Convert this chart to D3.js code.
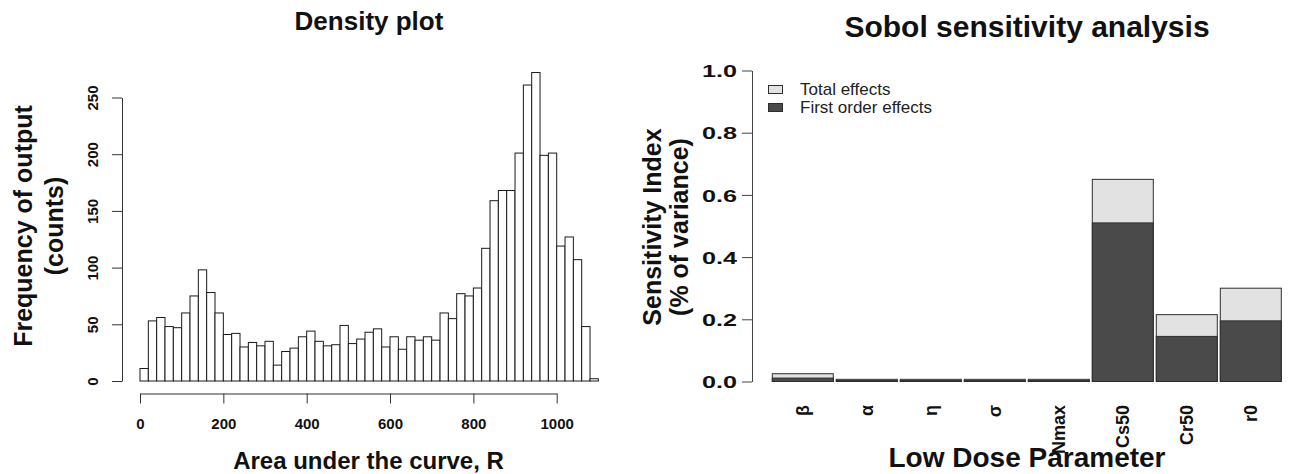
<!DOCTYPE html>
<html>
<head>
<meta charset="utf-8">
<script src="https://d3js.org/d3.v7.min.js"></script>
<style>
  body { margin: 0; background: #fff; }
  svg text { font-family: "Liberation Sans", Arial, Helvetica, sans-serif; fill: #111; }
</style>
</head>
<body>
<svg id="chart" width="1291" height="474"></svg>
<script>
/* Daten: Histogramm (Breite der Klassen 20) */
const binWidth = 20;
const counts = [11, 53, 56, 48, 47, 60, 75, 98, 78, 60,
                41, 42, 30, 34, 31, 35, 14, 26, 29, 39,
                44, 35, 31, 32, 49, 33, 37, 43, 46, 30,
                39, 28, 39, 36, 39, 36, 60, 55, 77, 75,
                82, 117, 159, 168, 168, 201, 261, 272, 199, 201,
                119, 127, 107, 48, 2];
const histXTicks = [0, 200, 400, 600, 800, 1000];
const histYTicks = [0, 50, 100, 150, 200, 250];

/* Daten: Sobol-Indizes */
const params = ["β", "α", "η", "σ", "Nmax", "Cs50", "Cr50", "r0"];
const totalEffects = [0.025, 0.007, 0.007, 0.007, 0.007, 0.65, 0.215, 0.30];
const firstOrder = [0.011, 0.003, 0.003, 0.003, 0.003, 0.51, 0.145, 0.195];
const sobolYTicks = [0, 0.2, 0.4, 0.6, 0.8, 1.0];

const svg = d3.select("#chart");
svg.append("rect").attr("width", 1291).attr("height", 474).attr("fill", "#fff");

/* ---------- Linkes Diagramm: Density plot ---------- */
const hx = d3.scaleLinear().domain([0, 1000]).range([140, 556.7]);
const hy = d3.scaleLinear().domain([0, 250]).range([381, 97.5]);
const bins = counts.map((c, i) => ({ x0: i * binWidth, x1: (i + 1) * binWidth, n: c }));

const left = svg.append("g");

left.selectAll("rect.bin")
  .data(bins)
  .enter().append("rect")
  .attr("class", "bin")
  .attr("x", d => hx(d.x0))
  .attr("y", d => hy(d.n))
  .attr("width", d => hx(d.x1) - hx(d.x0))
  .attr("height", d => hy(0) - hy(d.n))
  .attr("fill", "#fff")
  .attr("stroke", "#1a1a1a")
  .attr("stroke-width", 1);

// x-Achse (R-Stil, abgesetzt)
const hxAxis = left.append("g").attr("transform", "translate(0,393.5)")
  .call(d3.axisBottom(hx).tickValues(histXTicks).tickSize(10).tickSizeOuter(0).tickFormat(d3.format("d")));
hxAxis.select(".domain").attr("stroke", "#333");
hxAxis.selectAll(".tick line").attr("stroke", "#333");
hxAxis.selectAll(".tick text")
  .attr("y", 0).attr("dy", null)
  .attr("transform", "translate(0,35.5)")
  .style("font-size", "15px").style("font-weight", "bold");

// y-Achse mit gedrehten Beschriftungen
const hyAxis = left.append("g").attr("transform", "translate(122,0)")
  .call(d3.axisLeft(hy).tickValues(histYTicks).tickSize(10).tickSizeOuter(0).tickFormat(d3.format("d")));
hyAxis.select(".domain").attr("stroke", "#333");
hyAxis.selectAll(".tick line").attr("stroke", "#333");
hyAxis.selectAll(".tick text")
  .attr("x", null).attr("dy", null)
  .attr("text-anchor", "middle")
  .attr("transform", "translate(-24,0) rotate(-90)")
  .style("font-size", "15px").style("font-weight", "bold");

left.append("text")
  .attr("x", 369).attr("y", 30)
  .attr("text-anchor", "middle")
  .style("font-size", "26px").style("font-weight", "bold")
  .text("Density plot");

left.append("text")
  .attr("x", 368.5).attr("y", 469)
  .attr("text-anchor", "middle")
  .style("font-size", "24px").style("font-weight", "bold")
  .text("Area under the curve, R");

const hyLab = left.append("text")
  .attr("transform", "translate(32,226) rotate(-90)")
  .attr("text-anchor", "middle")
  .style("font-size", "25px").style("font-weight", "bold");
hyLab.append("tspan").attr("x", 0).attr("y", 0).text("Frequency of output");
hyLab.append("tspan").attr("x", 0).attr("y", 31).text("(counts)");

/* ---------- Rechtes Diagramm: Sobol ---------- */
const sx = d3.scaleBand().domain(params).range([770.8, 1282.8]).paddingInner(0.047).paddingOuter(0.0235);
const sy = d3.scaleLinear().domain([0, 1]).range([381.5, 70.5]);

const right = svg.append("g");

// Gesamteffekte (hell)
right.selectAll("rect.total")
  .data(params)
  .enter().append("rect")
  .attr("class", "total")
  .attr("x", d => sx(d))
  .attr("y", (d, i) => sy(totalEffects[i]))
  .attr("width", sx.bandwidth())
  .attr("height", (d, i) => sy(0) - sy(totalEffects[i]))
  .attr("fill", "#e2e2e2")
  .attr("stroke", "#2e2e2e")
  .attr("stroke-width", 1);

// Effekte erster Ordnung (dunkel)
right.selectAll("rect.first")
  .data(params)
  .enter().append("rect")
  .attr("class", "first")
  .attr("x", d => sx(d))
  .attr("y", (d, i) => sy(firstOrder[i]))
  .attr("width", sx.bandwidth())
  .attr("height", (d, i) => sy(0) - sy(firstOrder[i]))
  .attr("fill", "#4a4a4a")
  .attr("stroke", "#2e2e2e")
  .attr("stroke-width", 1);

const syAxis = right.append("g").attr("transform", "translate(752,0)")
  .call(d3.axisLeft(sy).tickValues(sobolYTicks).tickSize(10).tickSizeOuter(0).tickFormat(d3.format(".1f")));
syAxis.select(".domain").attr("stroke", "#444");
syAxis.selectAll(".tick line").attr("stroke", "#444");
syAxis.selectAll(".tick text")
  .attr("x", -15).attr("dy", "0.36em")
  .attr("textLength", 35).attr("lengthAdjust", "spacingAndGlyphs")
  .style("font-size", "17px").style("font-weight", "bold");

// Parameternamen, gedreht
right.selectAll("text.param")
  .data(params)
  .enter().append("text")
  .attr("class", "param")
  .attr("transform", d => `translate(${sx(d) + sx.bandwidth() / 2 + 6},405) rotate(-90)`)
  .attr("text-anchor", "end")
  .style("font-size", "18px").style("font-weight", "bold")
  .text(d => d);

right.append("text")
  .attr("x", 1027).attr("y", 37)
  .attr("text-anchor", "middle")
  .style("font-size", "30px").style("font-weight", "bold")
  .text("Sobol sensitivity analysis");

right.append("text")
  .attr("x", 1027).attr("y", 467)
  .attr("text-anchor", "middle")
  .style("font-size", "28px").style("font-weight", "bold")
  .text("Low Dose Parameter");

const syLab = right.append("text")
  .attr("transform", "translate(661,227) rotate(-90)")
  .attr("text-anchor", "middle")
  .style("font-size", "25px").style("font-weight", "bold");
syLab.append("tspan").attr("x", 0).attr("y", 0).text("Sensitivity Index");
syLab.append("tspan").attr("x", 0).attr("y", 27).text("(% of variance)");

// Legende
const legendItems = [
  { label: "Total effects", fill: "#e2e2e2" },
  { label: "First order effects", fill: "#4a4a4a" }
];
const legend = right.append("g").attr("transform", "translate(768,85)");
legend.selectAll("rect")
  .data(legendItems)
  .enter().append("rect")
  .attr("x", 0.5).attr("y", (d, i) => i * 18 + 0.5)
  .attr("width", 14).attr("height", 8)
  .attr("fill", d => d.fill)
  .attr("stroke", "#2e2e2e");
legend.selectAll("text")
  .data(legendItems)
  .enter().append("text")
  .attr("x", 32).attr("y", (d, i) => i * 18 + 10)
  .style("font-size", "17px")
  .style("fill", "#222")
  .text(d => d.label);
</script>
</body>
</html>
